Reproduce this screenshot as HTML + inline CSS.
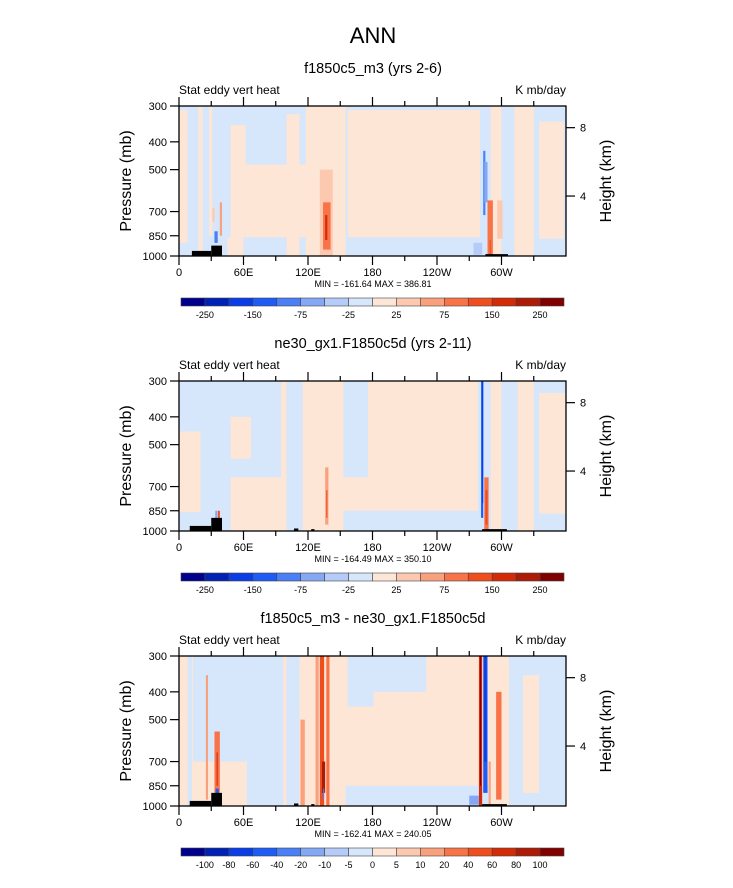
<!DOCTYPE html>
<html><head><meta charset="utf-8"><style>
html,body{margin:0;padding:0;background:#fff;}
svg{display:block;font-family:"Liberation Sans",Arial,sans-serif;}
</style></head><body>
<svg id="fig" width="733" height="888" viewBox="0 0 733 888" xmlns="http://www.w3.org/2000/svg">
<text x="373" y="43" font-size="22" text-anchor="middle">ANN</text>
</svg>
<script>
// shared data
const colors = ["#00008c","#0022b4","#0a3de6","#1e5cf5","#4a7ff5","#85a8f5","#b4ccf7","#d6e6fb","#fde6d6","#fcc8b0","#f9a07c","#f87448","#f04d1e","#d42a08","#ad1a05","#800000"];
const lonTicks = [0,60,120,180,240,300];
const lonLabels = ["0","60E","120E","180","120W","60W"];
const presTicks = [300,400,500,700,850,1000];
const heightTickP = [357,618];
const heightLabels = ["8","4"];
const titles = ["f1850c5_m3 (yrs 2-6)","ne30_gx1.F1850c5d (yrs 2-11)","f1850c5_m3 - ne30_gx1.F1850c5d"];
const minmax = ["MIN = -161.64  MAX = 386.81","MIN = -164.49  MAX = 350.10","MIN = -162.41  MAX = 240.05"];
const cbLabelsA = ["-250","-150","-75","-25","25","75","150","250"];
const cbLabelsB = ["-100","-80","-60","-40","-20","-10","-5","0","5","10","20","40","60","80","100"];
// panel fields: [lon0, lon1, p0, p1, colorIndex]
const bgColor = [7,7,8];
const field1 = [
 [0,8,310,900,8],[18,22,300,1000,8],[28,31,300,850,8],[48,62,350,860,8],[62,130,480,860,8],[45,60,860,1000,8],
 [100,112,320,1000,8],[118,155,300,1000,8],[157,280,310,860,8],[290,300,300,1000,8],[312,330,300,1000,8],[335,358,340,870,8],
 [38,40,650,850,10],[31,33,680,760,9],[33,36,820,900,4],[131,143,500,1000,9],[134,141,650,950,11],[136,138,720,880,13],
 [283,285,430,720,4],[284,287,470,650,5],[287,292,640,1000,11],[296,301,640,870,9],[274,282,900,990,6],[289,290,880,1000,12]
];
const field2 = [
 [0,20,450,860,8],[48,67,400,560,8],[48,95,650,1000,8],[95,100,300,1000,8],[115,153,300,1000,8],
 [176,278,300,850,8],[153,176,650,850,8],[290,300,300,1000,8],[315,330,300,1000,8],[335,360,330,870,8],
 [136,139,600,950,10],[137,138,720,900,12],[281,283,300,900,3],[282,283,300,800,2],[284,288,650,1000,11],[285,287,720,950,12],[36,38,850,960,12],[34,35,850,930,4]
];
const field3 = [
 [13,63,300,700,7],[63,97,300,1000,7],[155,290,850,1000,7],[157,181,300,450,7],[181,230,300,400,7],[307,360,300,1000,7],[100,112,300,1000,7],
 [320,335,350,900,8],[8,12,300,1000,7],
 [25,27,350,950,10],[33,38,550,900,11],[35,36,650,850,13],[34,37,870,980,3],
 [113,117,500,1000,10],[127,130,300,1000,10],[131,135,300,1000,12],[137,140,300,1000,11],[133,136,700,900,14],[134,135,870,950,4],
 [279,282,300,1000,13],[280,281,300,850,15],[283,287,300,900,3],[284,286,300,700,2],[295,300,400,950,11],[270,279,920,990,5],[288,290,700,1000,10]
];
const topo1 = [[12,30,960,1000],[30,40,920,1000],[285,306,985,1000]];
const topo2 = [[10,30,960,1000],[30,40,900,1000],[107,111,980,1000],[123,126,985,1000],[282,305,985,1000]];
const topo3 = [[10,30,960,1000],[30,40,900,1000],[107,111,980,1000],[123,126,985,1000],[282,305,985,1000]];
const fields=[field1,field2,field3], topos=[topo1,topo2,topo3];

const NS="http://www.w3.org/2000/svg";
const svg=document.getElementById('fig');
function mk(tag,attrs,parent,txt){const e=document.createElementNS(NS,tag);for(const k in attrs)e.setAttribute(k,attrs[k]);if(txt!==undefined)e.textContent=txt;(parent||svg).appendChild(e);return e;}
const X0=179,X1=566,H=150;
for(let i=0;i<3;i++){
 const top=106+275*i, bot=top+H;
 const xs=l=>X0+l/360*(X1-X0);
 const ys=p=>top+Math.log(p/300)/Math.log(1000/300)*H;
 const g=mk('g',{});
 
 
 const t=mk('text',{x:373,y:top-33,'font-size':14.5,'text-anchor':'middle'},g,titles[i]);
 
 
 const l=mk('text',{x:X0,y:top-12,'font-size':12},g,'Stat eddy vert heat');
 
 
 const u=mk('text',{x:X1,y:top-12,'font-size':12,'text-anchor':'end'},g,'K mb/day');
 
 
 const bg=mk('rect',{x:X0,y:top,width:X1-X0,height:H,fill:colors[bgColor[i]]},g);
 
 
 for(const f of fields[i]){
  const r=mk('rect',{x:xs(f[0]),y:ys(f[2]),width:xs(f[1])-xs(f[0]),height:ys(f[3])-ys(f[2]),fill:colors[f[4]]},g);
  
  
 }
 for(const f of topos[i]){
  const r=mk('rect',{x:xs(f[0]),y:ys(f[2]),width:xs(f[1])-xs(f[0]),height:ys(f[3])-ys(f[2]),fill:'#000'},g);
  
  
 }
 const fr=mk('rect',{x:X0,y:top,width:X1-X0,height:H,fill:'none',stroke:'#000','stroke-width':1.3},g);
 
 
 for(let lon=0;lon<360;lon+=30){
  const x=xs(lon), len=lon%60===0?9:5;
  mk('line',{x1:x,x2:x,y1:top,y2:top-len,stroke:'#000','stroke-width':1.2},g);
  mk('line',{x1:x,x2:x,y1:bot,y2:bot+len,stroke:'#000','stroke-width':1.2},g);
 }
 lonTicks.forEach((lon,k)=>{const tx=mk('text',{x:xs(lon),y:bot+20,'font-size':11,'text-anchor':'middle'},g,lonLabels[k]);
  
  });
 presTicks.forEach(p=>{const y=ys(p);mk('line',{x1:X0,x2:X0-9,y1:y,y2:y,stroke:'#000','stroke-width':1.2},g);
  const tx=mk('text',{x:X0-12,y:y+4,'font-size':11,'text-anchor':'end'},g,String(p));
  
  });
 heightTickP.forEach((p,k)=>{const y=ys(p);mk('line',{x1:X1,x2:X1+9,y1:y,y2:y,stroke:'#000','stroke-width':1.2},g);
  const tx=mk('text',{x:X1+14,y:y+4,'font-size':11},g,heightLabels[k]);
  
  });
 const yt=mk('text',{x:0,y:0,'font-size':16,'text-anchor':'middle',transform:`translate(131,${top+75}) rotate(-90)`},g,'Pressure (mb)');
 
 
 const ht=mk('text',{x:0,y:0,'font-size':16,'text-anchor':'middle',transform:`translate(611,${top+75}) rotate(-90)`},g,'Height (km)');
 
 
 const mm=mk('text',{x:373,y:bot+31,'font-size':9,'text-anchor':'middle'},g,minmax[i]);
 
 
 // colorbar
 const cy=top+192, cx0=181, cx1=564, n=colors.length, bw=(cx1-cx0)/n;
 const cb=mk('g',{},g);
 
 
 colors.forEach((c,k)=>{const r=mk('rect',{x:cx0+k*bw,y:cy,width:bw,height:8,fill:c,stroke:'#444','stroke-width':0.6},cb);
  
  });
 const labs=i<2?cbLabelsA:cbLabelsB;
 labs.forEach((s,k)=>{const b=i<2?2*k+1:k+1;
  const tx=mk('text',{x:cx0+b*bw,y:cy+20,'font-size':9,'text-anchor':'middle'},cb,s);
  
  });
}
</script>
</body></html>
